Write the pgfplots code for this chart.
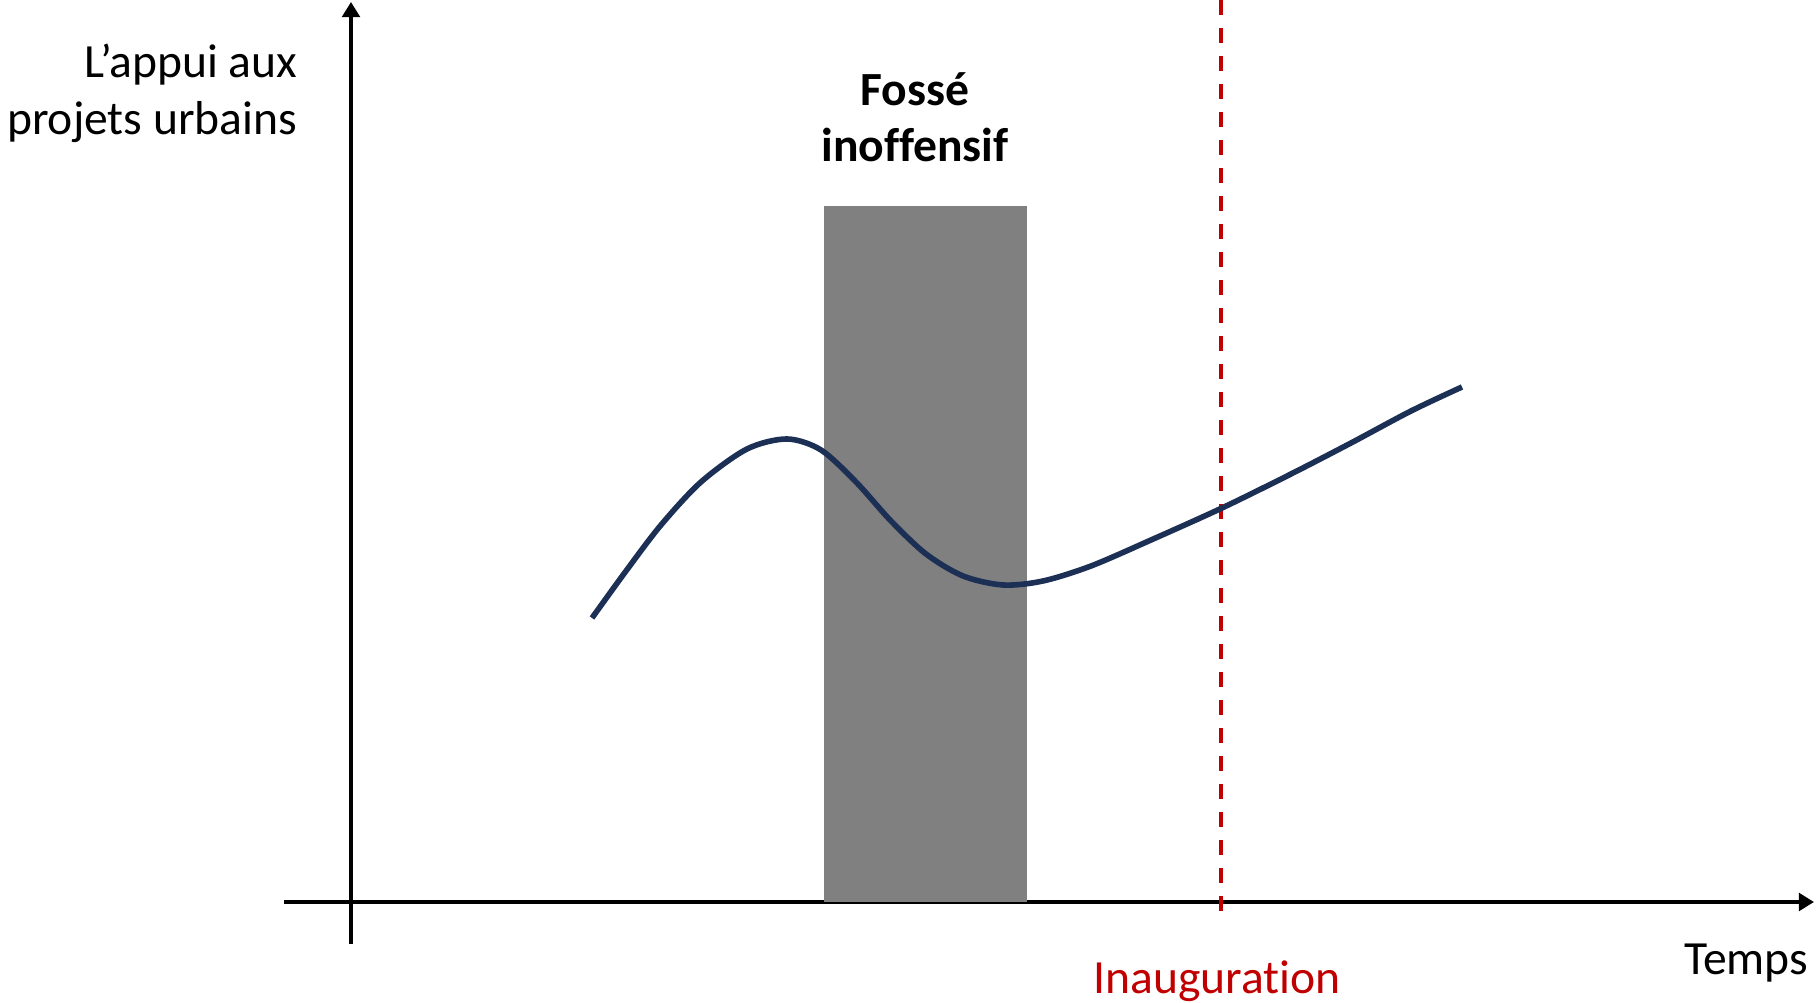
\documentclass[border=0pt]{standalone}
\usepackage{fontspec}
\setmainfont{Carlito}[Ligatures=NoCommon]
\usepackage{pgfplots}
\pgfplotsset{compat=1.18}
\usetikzlibrary{arrows.meta}
\definecolor{navy}{HTML}{1C2F55}
\definecolor{darkred}{HTML}{C00000}
\definecolor{fossegray}{HTML}{808080}

\begin{document}
\begin{tikzpicture}
\tikzset{axarrow/.style={line width=1pt,-{Triangle[length=3.8pt,width=4.4pt]}}}
\begin{axis}[
  scale only axis, width=382.5pt, height=235.5pt,
  xmin=-67, xmax=1463, ymin=-42, ymax=900,
  enlargelimits=false,
  axis lines=middle,
  axis line style={axarrow},
  every inner x axis line/.append style={axarrow},
  every inner y axis line/.append style={axarrow},
  xtick=\empty, ytick=\empty,
  clip=false,
  font=\fontsize{11.9}{14}\selectfont]

% fosse (periode grise)
\addplot[fill=fossegray, draw=none] coordinates {(473,0)(473,696)(676,696)(676,0)} -- cycle;

% inauguration
\addplot[darkred, line width=0.85pt, dash pattern=on 3.75pt off 3.25pt] coordinates {(870,-9)(870,902)};

% appui aux projets
\addplot[navy, line width=1.4pt, smooth, line cap=butt] coordinates {
  (241,284)(275,331)(310,377)(350,420)(396,453)(436,463)(470,452)
  (505,420)(540,381)(575,348)(612,326)(652,317)(692,321)(740,336)
  (800,362)(871,394)(940,428)(1000,459)(1060,491)(1111,515)};

\node[anchor=base east, inner sep=0pt] at (axis cs:-53,824) {L’appui aux};
\node[anchor=base east, inner sep=0pt] at (axis cs:-53,767) {projets urbains};
\node[anchor=base, inner sep=0pt, font=\fontsize{11.9}{14}\selectfont\bfseries] at (axis cs:564,796) {Fossé};
\node[anchor=base, inner sep=0pt, font=\fontsize{11.9}{14}\selectfont\bfseries] at (axis cs:564,740) {inoffensif};
\node[anchor=base east, inner sep=0pt] at (axis cs:1458,-73) {Temps};
\node[anchor=base, inner sep=0pt, text=darkred] at (axis cs:866,-92) {Inauguration};

\coordinate (bl) at (axis cs:-351,-101);
\coordinate (tr) at (axis cs:1465,902);
\end{axis}
\pgfresetboundingbox
\path[use as bounding box] (bl) rectangle (tr);
\end{tikzpicture}
\end{document}
